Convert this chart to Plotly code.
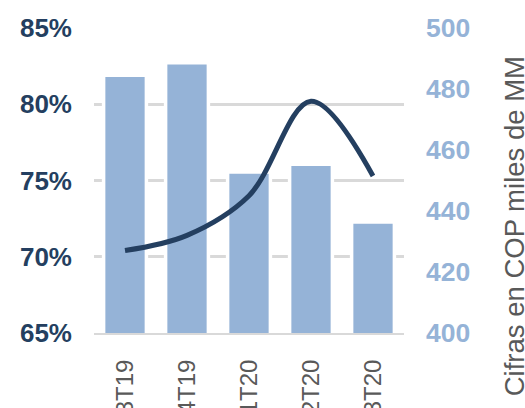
import plotly.graph_objects as go

categories = ["3T19", "4T19", "1T20", "2T20", "3T20"]
bar_values = [484.5, 488.6, 452.8, 455.3, 436.4]          # COP miles de MM (right axis)
line_values = [0.704, 0.714, 0.740, 0.802, 0.753]         # % (left axis)
right_ticks = [400, 420, 440, 460, 480, 500]
left_ticks = [0.65, 0.70, 0.75, 0.80, 0.85]
right_title = "Cifras en COP miles de MM"

NAVY = "#243F60"
BLUE = "#95B3D7"
GRAY = "#595959"
GRID = "#D9D9D9"
FONT = "Liberation Sans, Arial, sans-serif"

fig = go.Figure()
fig.add_trace(go.Bar(
    x=categories, y=bar_values, yaxis="y",
    marker=dict(color=BLUE, line=dict(color="white", width=3.5)),
    width=0.69, showlegend=False,
))
fig.add_trace(go.Scatter(
    x=categories, y=line_values, yaxis="y2", mode="lines",
    line=dict(color=NAVY, width=5, shape="spline", smoothing=1.0),
    showlegend=False,
))

fig.update_layout(
    width=525, height=408,
    margin=dict(l=94, r=121, t=28, b=75),
    paper_bgcolor="white", plot_bgcolor="white",
    font=dict(family=FONT),
    xaxis=dict(
        tickangle=-90, tickfont=dict(size=24, color=GRAY, family=FONT),
        showline=True, linecolor=GRID, linewidth=2, ticks="",
        showgrid=False, ticklabelstandoff=15, automargin=False,
    ),
    yaxis=dict(
        range=[400, 500], side="right", tickvals=right_ticks,
        tickfont=dict(size=26.5, color=BLUE, family=FONT, weight="bold"),
        showgrid=False, zeroline=False, ticks="", ticklabelstandoff=21,
        automargin=False,
    ),
    yaxis2=dict(
        range=[0.6499, 0.8501], overlaying="y", side="left",
        tickvals=left_ticks, tickformat=".0%",
        tickfont=dict(size=26, color=NAVY, family=FONT, weight="bold"),
        showgrid=True, gridcolor=GRID, gridwidth=2.5, zeroline=False,
        ticks="", ticklabelstandoff=21, automargin=False,
    ),
    bargap=0.3,
    annotations=[dict(
        text=right_title, textangle=-90, showarrow=False,
        xref="paper", yref="paper", x=1.355, y=0.35,
        xanchor="center", yanchor="middle",
        font=dict(size=27.5, color=GRAY, family=FONT),
    )],
)

fig.write_html("out.html", config={"displayModeBar": False},
               post_script="document.body.style.margin='0';")
